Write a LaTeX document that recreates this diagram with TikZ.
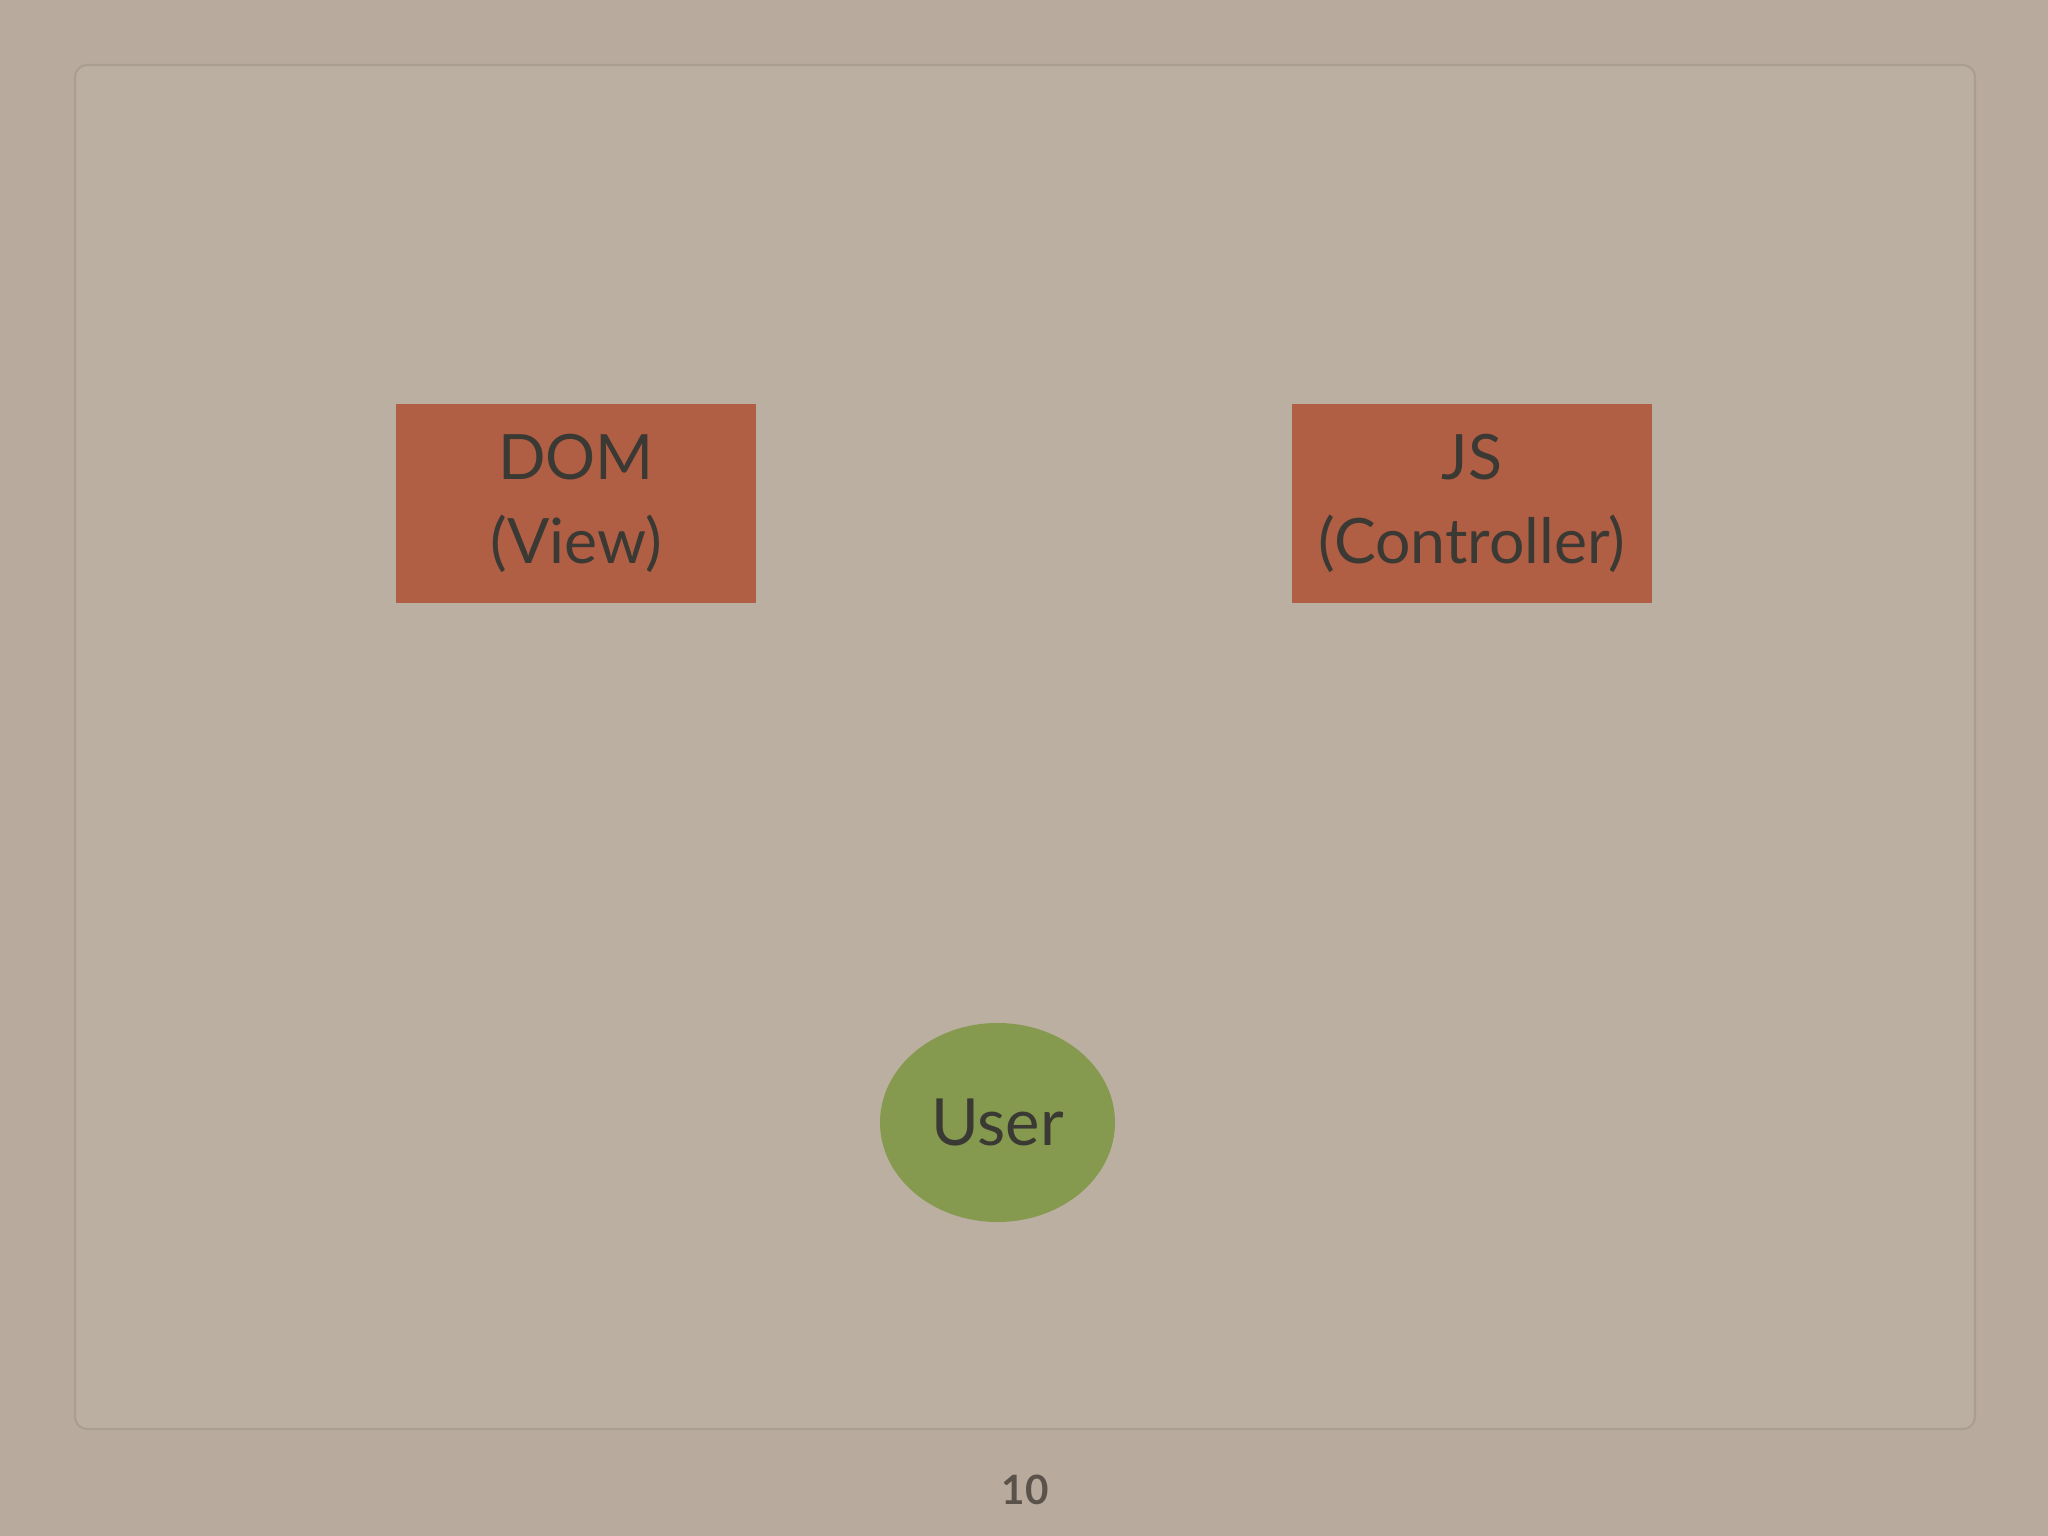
\documentclass[tikz,border=0pt]{standalone}
\usepackage{fontspec}
\setmainfont{Lato}
\usetikzlibrary{positioning,shapes.geometric}
\definecolor{paper}{HTML}{B8AB9E}
\definecolor{panel}{HTML}{BBAFA2}
\definecolor{rim}{HTML}{AA9E92}
\definecolor{brick}{HTML}{B05E44}
\definecolor{moss}{HTML}{85994F}
\definecolor{ink}{HTML}{3B3934}
\definecolor{pageno}{HTML}{5B534B}
\tikzset{
node distance=8.96cm, % distance between the two boxes
block/.style={rectangle, fill=brick, minimum width=3.6cm, minimum height=1.99cm,
  inner sep=0pt, text=ink, align=center, font=\fontsize{17.8}{24}\selectfont},
actor/.style={ellipse, fill=moss, minimum width=2.35cm, minimum height=1.99cm,
  inner sep=0pt, text=ink, font=\fontsize{18.5}{23}\selectfont},
}
\begin{document}
\begin{tikzpicture}[on grid]
    % slide background and inner panel
    \fill[paper] (0,0) rectangle (20.48,-15.36);
    \useasboundingbox (0,0) rectangle (20.48,-15.36);
    \draw[rim, fill=panel, line width=0.6pt, rounded corners=0.12cm] (0.75,-0.65) rectangle (19.75,-14.29);
    \node[block] (q_dom) at (5.76,-5.035) {DOM\\(View)};
    \node[block] (q_js) [right=of q_dom] {JS\\(Controller)};
    \node[actor] (q_user) at (9.975,-11.225) {User};
    \node[text=pageno, font=\bfseries\fontsize{11.5}{13}\selectfont] (q_page) at (10.25,-14.9) {10};
\end{tikzpicture}
\end{document}
